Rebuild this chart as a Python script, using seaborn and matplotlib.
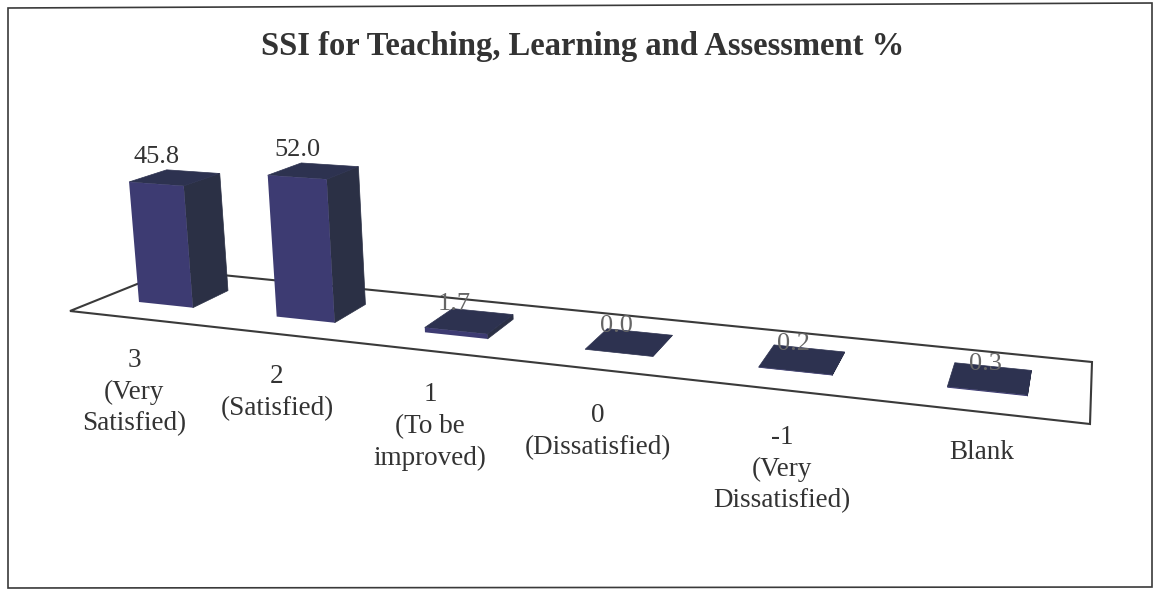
import numpy as np
import pandas as pd
import seaborn as sns
import matplotlib.pyplot as plt
from matplotlib.patches import Polygon
from matplotlib.path import Path
from matplotlib.transforms import Affine2D, Transform

sns.set_style("white")
plt.rcParams['font.family'] = ['Liberation Serif', 'DejaVu Serif']

# data
categories = ['3', '2', '1', '0', '-1', 'Blank']
values = [45.8, 52.0, 1.7, 0.0, 0.2, 0.3]
value_labels = ['45.8', '52.0', '1.7', '0.0', '0.2', '0.3']
tick_labels = ['3\n(Very\nSatisfied)', '2\n(Satisfied)', '1\n(To be\nimproved)',
               '0\n(Dissatisfied)', '-1\n(Very\nDissatisfied)', 'Blank']
title = 'SSI for Teaching, Learning and Assessment %'

# layout, in pixels of the scanned page
W, H = 1153, 591
floor_px = [(70, 311), (1090, 424), (1092, 362), (172, 270)]
frame_px = [(8, 8), (1152, 3), (1152, 587), (8, 588)]
tick_px = [(134, 348), (277, 364), (430, 382), (598, 403), (782, 425), (982, 440)]
BAR_W = 0.40
# perspective of the floor: (category pos, depth, 1) -> page pixel
FLOOR_M = np.array([[128.72, 43.87, 165.74],
                    [3.30, -5.5, 304.83],
                    [-0.036, 0.0395, 1.0]])

c_front = '#3d3b72'
c_side = '#2b3045'
c_top = '#2d3250'
c_line = '#3a3a3a'
c_text = '#333333'
c_faded = '#666666'


def project(u, v, d):
    # category position, value, depth -> page pixel
    u, v = np.asarray(u, float), np.asarray(v, float)
    w = FLOOR_M[2, 0] * u + FLOOR_M[2, 1] * d + 1
    x = (FLOOR_M[0, 0] * u + FLOOR_M[0, 1] * d + FLOOR_M[0, 2]) / w
    y = (FLOOR_M[1, 0] * u + FLOOR_M[1, 1] * d + FLOOR_M[1, 2]) / w
    h = v * 2.64 / w
    tilt = 0.00014 * (730 - x)
    return np.column_stack([x - h * tilt, y - h])


class BarProjection(Transform):
    input_dims = 2
    output_dims = 2

    def __init__(self, d):
        super().__init__()
        self.d = d

    def transform_non_affine(self, values):
        return project(values[:, 0], values[:, 1], self.d)

    def transform_path_non_affine(self, path):
        return Path(self.transform_non_affine(path.vertices), path.codes)


fig, ax = plt.subplots(figsize=(W / 100, H / 100), dpi=100)
ax.set_position([0, 0, 1, 1])
page = Affine2D().scale(1, -1).translate(0, H)

df = pd.DataFrame({'category': categories, 'value': values})
sns.barplot(df, x='category', y='value', color=c_front, saturation=1, width=BAR_W,
            linewidth=0, zorder=5, ax=ax)
ax.set_axis_off()

# frame and floor
ax.add_patch(Polygon(frame_px, closed=True, fill=False, edgecolor=c_line, linewidth=1.2,
                     transform=page, clip_on=False))
ax.add_patch(Polygon(floor_px, closed=True, fill=False, edgecolor=c_line, linewidth=1.5,
                     transform=page, clip_on=False, zorder=2))

# 3d faces of each bar, from the bars seaborn drew
for bar, lab in zip(ax.patches[:len(values)], value_labels):
    x0, x1, v = bar.get_x(), bar.get_x() + bar.get_width(), bar.get_height()
    bar.set_transform(BarProjection(0) + page)
    bar.set_clip_on(False)
    side = [project(x1, 0, 0)[0], project(x1, v, 0)[0], project(x1, v, 1)[0], project(x1, 0, 1)[0]]
    top = [project(x0, v, 0)[0], project(x1, v, 0)[0], project(x1, v, 1)[0], project(x0, v, 1)[0]]
    ax.add_patch(Polygon(side, closed=True, color=c_side, lw=0.5, transform=page, zorder=4, clip_on=False))
    ax.add_patch(Polygon(top, closed=True, color=c_top, lw=0.5, transform=page, zorder=4, clip_on=False))
    cx, cy = project((x0 + x1) / 2, v, 0)[0]
    # the small bars' labels came out faint in the scan
    ax.text(cx - (2 if v < 5 else 0), cy - 27, lab, transform=page, ha='center', va='center', fontsize=19,
            color=c_faded if v < 5 else c_text, zorder=6, clip_on=False)

for (x, y), lab in zip(tick_px, tick_labels):
    ax.text(x, y, lab, transform=page, ha='center', va='top', fontsize=19.5, color=c_text,
            linespacing=1.35, clip_on=False)

ax.text(583, 47, title, transform=page, ha='center', va='center', fontsize=23.5,
        fontweight='bold', color=c_text, clip_on=False)

fig.savefig('out.png', dpi=100)
